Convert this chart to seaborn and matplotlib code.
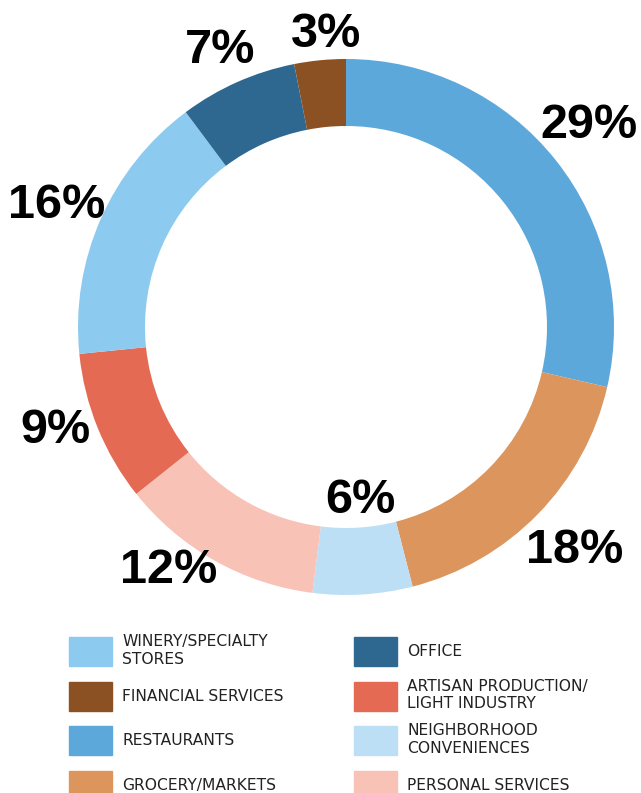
import matplotlib
matplotlib.use('agg')
import matplotlib.pyplot as plt
import matplotlib.patches as mpatches
from matplotlib.legend_handler import HandlerPatch
import seaborn as sns

# Slices in drawing order (clockwise from top), shares read from the ring
categories = ['RESTAURANTS', 'GROCERY/MARKETS', 'NEIGHBORHOOD\nCONVENIENCES',
              'PERSONAL SERVICES', 'ARTISAN PRODUCTION/\nLIGHT INDUSTRY',
              'WINERY/SPECIALTY\nSTORES', 'OFFICE', 'FINANCIAL SERVICES']
shares = [28.6, 17.4, 6.0, 12.3, 9.1, 16.4, 7.1, 3.1]
pct_labels = ['29%', '18%', '6%', '12%', '9%', '16%', '7%', '3%']
colors = ['#5DA8DB', '#DC955C', '#BDDFF5', '#F9C2B7', '#E46A54',
          '#8DCAEF', '#2E6891', '#8C5123']

# legend order (two columns, filled top to bottom)
legend_order = ['WINERY/SPECIALTY\nSTORES', 'FINANCIAL SERVICES', 'RESTAURANTS',
                'GROCERY/MARKETS', 'OFFICE', 'ARTISAN PRODUCTION/\nLIGHT INDUSTRY',
                'NEIGHBORHOOD\nCONVENIENCES', 'PERSONAL SERVICES']

# label anchor (centre x, baseline y) relative to the ring (radius = 1)
label_pos = [(0.906, 0.705), (0.854, -0.881), (0.054, -0.694), (-0.662, -0.955),
             (-1.084, -0.433), (-1.080, 0.407), (-0.470, 0.985), (-0.075, 1.045)]

sns.set_style('white')
plt.rcParams['font.family'] = ['Liberation Sans', 'DejaVu Sans']

fig = plt.figure(figsize=(6.41, 7.93), dpi=100)
ax = fig.add_axes([0, 0, 1, 1])

ax.pie(shares, colors=colors, startangle=90, counterclock=False, radius=1,
       wedgeprops=dict(width=0.25, edgecolor='none'))

for (x, y), txt in zip(label_pos, pct_labels):
    ax.text(x, y, txt, fontsize=35, fontweight='bold', ha='center', va='baseline', color='black')

ax.set_xlim(-346 / 268, (641 - 346) / 268)
ax.set_ylim(-(793 - 327) / 268, 327 / 268)
ax.set_aspect('equal')
ax.axis('off')


# legend swatch: fixed height box centred in a taller row
def swatch(legend, orig_handle, xdescent, ydescent, width, height, fontsize):
    h = 29 * 0.72
    return mpatches.Rectangle((-xdescent, -ydescent + (height - h) / 2), width, h)


cmap = dict(zip(categories, colors))
handles = [mpatches.Patch(color=cmap[c], label=c) for c in legend_order]
fig.legend(handles=handles, ncol=2, loc='upper left', bbox_to_anchor=(69 / 641, 1 - 634 / 793),
           frameon=False, prop={'family': 'DejaVu Sans', 'size': 11.2},
           handlelength=2.77, handleheight=3.18, handletextpad=0.64,
           labelspacing=0.545, columnspacing=4.53, borderpad=0, borderaxespad=0,
           labelcolor='#222222', handler_map={mpatches.Patch: HandlerPatch(patch_func=swatch)})

plt.savefig('out.png', dpi=100)
plt.close()
